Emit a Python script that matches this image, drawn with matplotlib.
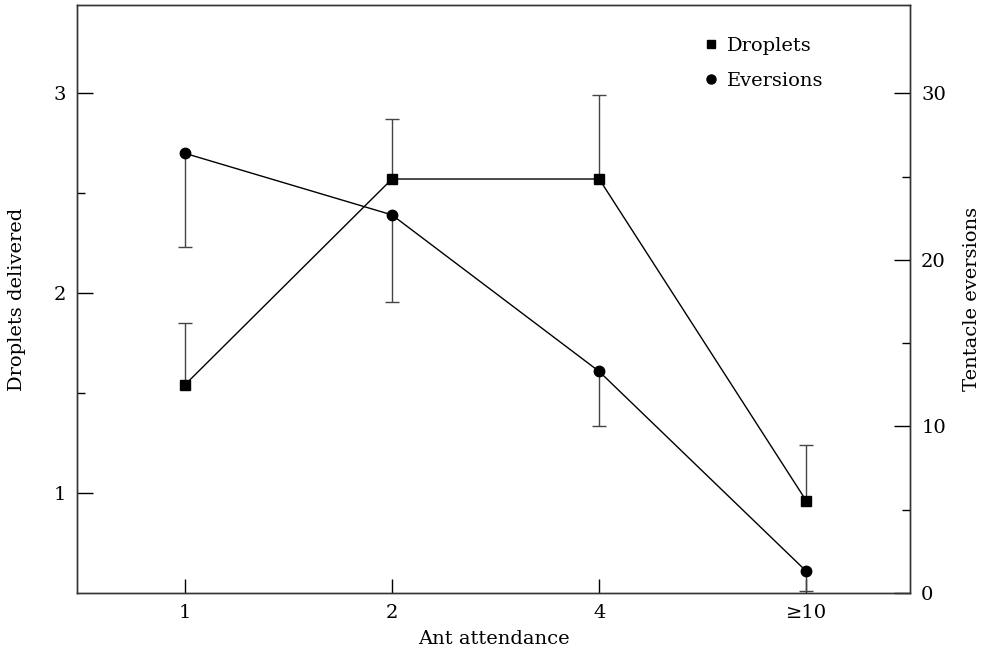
import matplotlib
matplotlib.use('Agg')
import matplotlib.pyplot as plt
from matplotlib.ticker import FixedLocator
from matplotlib.lines import Line2D
import numpy as np

# data
attendance = ['1', '2', '4', '≥10']
droplets = [1.54, 2.57, 2.57, 0.96]
droplets_err = [0.31, 0.30, 0.42, 0.28]      # drawn upward only
eversions = [26.4, 22.7, 13.3, 1.3]
eversions_err = [5.6, 5.2, 3.3, 1.2]         # drawn downward only

plt.rcParams.update({
    'font.family': ['DejaVu Serif'],
    'font.size': 14,
})

fig = plt.figure(figsize=(9.87, 6.52), dpi=100)
ax = fig.add_axes([0.078, 0.0905, 0.844, 0.9018])
ax2 = ax.twinx()

x = np.arange(len(attendance))
ecol = '#444444'

# one-sided error bars: stem + single cap
d = np.array(droplets)
d_top = d + np.array(droplets_err)
ax.vlines(x, d, d_top, color=ecol, lw=1.0)
ax.plot(x, d_top, ls='none', marker='_', markersize=10, mew=1.0, color=ecol)

e = np.array(eversions)
e_bot = e - np.array(eversions_err)
ax2.vlines(x, e_bot, e, color=ecol, lw=1.0)
ax2.plot(x, e_bot, ls='none', marker='_', markersize=10, mew=1.0, color=ecol,
         clip_on=False)

ax.plot(x, droplets, '-', color='black', lw=1.0, marker='s', markersize=6.5,
        zorder=3)
ax2.plot(x, eversions, '-', color='black', lw=1.0, marker='o', markersize=7.5,
         zorder=3)

ax.set_xlim(-0.52, 3.5)
ax.set_ylim(0.5, 3.44)
ax2.set_ylim(0, 35.3)

ax.set_xticks(x)
ax.set_xticklabels(attendance)
ax.set_yticks([1, 2, 3])
ax.yaxis.set_minor_locator(FixedLocator([1.5, 2.5]))
ax2.set_yticks([0, 10, 20, 30])
ax2.yaxis.set_minor_locator(FixedLocator([5, 15, 25]))

ax.tick_params(axis='x', which='major', direction='in', length=10, width=1, pad=8)
ax.tick_params(axis='y', which='major', direction='in', length=11.5, width=1, pad=8)
ax.tick_params(axis='y', which='minor', direction='in', length=5.8, width=1)
ax2.tick_params(axis='y', which='major', direction='in', length=11.5, width=1, pad=8)
ax2.tick_params(axis='y', which='minor', direction='in', length=5.8, width=1)

for a in (ax, ax2):
    for s in a.spines.values():
        s.set_linewidth(1.0)
        s.set_color('#333333')

ax.set_xlabel('Ant attendance', labelpad=6)
ax.set_ylabel('Droplets delivered', labelpad=20)
ax2.set_ylabel('Tentacle eversions', rotation=90, labelpad=12)

handles = [Line2D([], [], ls='none', marker='s', color='black', markersize=6),
           Line2D([], [], ls='none', marker='o', color='black', markersize=6.5)]
ax2.legend(handles, ['Droplets', 'Eversions'], loc='upper left',
           bbox_to_anchor=(0.752, 0.946), frameon=False, handlelength=0.8,
           handletextpad=0.4, labelspacing=0.9, borderpad=0, borderaxespad=0)

plt.savefig('out.png', dpi=100)
plt.close()
